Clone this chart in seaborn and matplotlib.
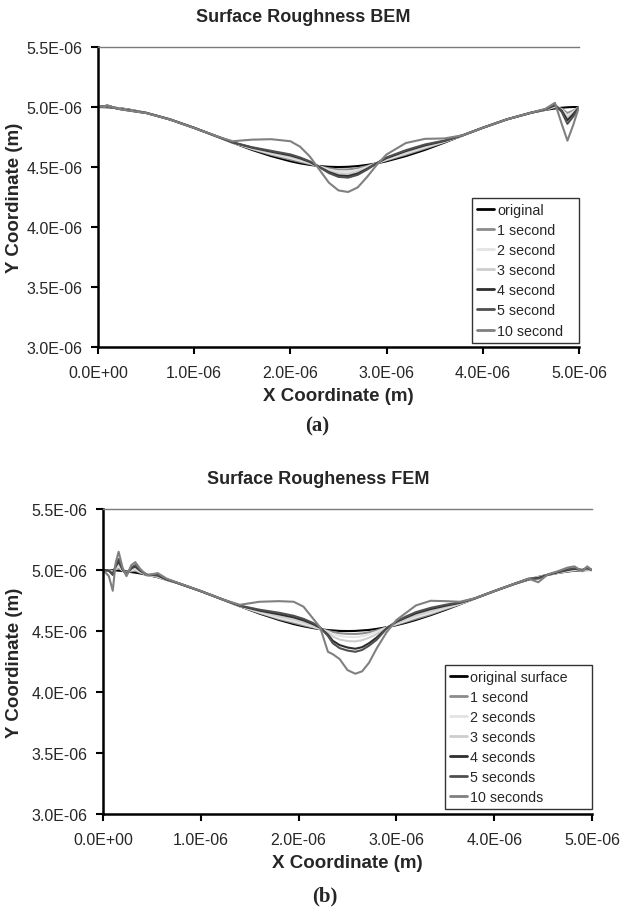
import numpy as np
import pandas as pd
import matplotlib
matplotlib.use("Agg")
import matplotlib.pyplot as plt
from matplotlib.ticker import FuncFormatter, MultipleLocator
import seaborn as sns

# ---- data (x and y in micrometres) ----
x_bem = [0.0, 0.1, 0.2, 0.3, 0.5, 0.75, 1.0, 1.25, 1.4, 1.6, 1.8, 2.0, 2.1, 2.2, 2.3, 2.4, 2.5,
         2.6, 2.7, 2.8, 2.9, 3.0, 3.2, 3.4, 3.6, 3.8, 4.0, 4.25, 4.5, 4.65, 4.75, 4.82, 4.88, 4.94, 5.0]

bem_original = [5.000, 4.998, 4.992, 4.982, 4.952, 4.897, 4.827, 4.750, 4.703, 4.643, 4.591, 4.548,
                4.531, 4.518, 4.508, 4.502, 4.500, 4.502, 4.508, 4.518, 4.531, 4.548, 4.591, 4.643,
                4.703, 4.766, 4.827, 4.897, 4.952, 4.976, 4.988, 4.994, 4.998, 5.000, 5.000]
bem_1s = [5.000, 5.006, 4.992, 4.980, 4.952, 4.897, 4.826, 4.750, 4.703, 4.649, 4.602, 4.562,
          4.543, 4.525, 4.506, 4.489, 4.480, 4.480, 4.490, 4.509, 4.532, 4.556, 4.603, 4.654,
          4.707, 4.766, 4.827, 4.897, 4.952, 4.977, 4.998, 4.985, 4.950, 4.970, 5.000]
bem_2s = [5.000, 5.008, 4.990, 4.978, 4.952, 4.896, 4.826, 4.751, 4.704, 4.653, 4.611, 4.574,
          4.553, 4.532, 4.504, 4.479, 4.463, 4.461, 4.475, 4.501, 4.532, 4.562, 4.613, 4.663,
          4.711, 4.767, 4.827, 4.897, 4.952, 4.978, 5.005, 4.980, 4.930, 4.960, 5.000]
bem_3s = [5.000, 5.010, 4.988, 4.976, 4.951, 4.896, 4.826, 4.751, 4.704, 4.657, 4.620, 4.585,
          4.563, 4.537, 4.503, 4.468, 4.447, 4.443, 4.461, 4.493, 4.532, 4.569, 4.623, 4.672,
          4.714, 4.767, 4.827, 4.897, 4.952, 4.979, 5.010, 4.975, 4.910, 4.950, 5.000]
bem_4s = [5.000, 5.011, 4.987, 4.975, 4.951, 4.896, 4.826, 4.751, 4.705, 4.662, 4.628, 4.597,
          4.573, 4.543, 4.501, 4.458, 4.430, 4.425, 4.446, 4.486, 4.533, 4.575, 4.633, 4.681,
          4.717, 4.767, 4.827, 4.897, 4.952, 4.980, 5.015, 4.970, 4.890, 4.940, 5.000]
bem_5s = [5.000, 5.012, 4.986, 4.974, 4.951, 4.896, 4.826, 4.751, 4.706, 4.665, 4.635, 4.605,
          4.580, 4.548, 4.500, 4.450, 4.418, 4.412, 4.435, 4.480, 4.533, 4.580, 4.640, 4.688,
          4.720, 4.767, 4.827, 4.897, 4.952, 4.980, 5.020, 4.960, 4.860, 4.920, 5.000]
bem_10s = [5.000, 5.012, 4.988, 4.972, 4.950, 4.895, 4.825, 4.752, 4.715, 4.728, 4.732, 4.715,
           4.670, 4.590, 4.480, 4.370, 4.305, 4.292, 4.330, 4.420, 4.520, 4.605, 4.700, 4.735,
           4.738, 4.766, 4.827, 4.897, 4.952, 4.985, 5.035, 4.860, 4.720, 4.850, 5.000]

x_fem = [0.0, 0.06, 0.1, 0.13, 0.16, 0.2, 0.24, 0.29, 0.33, 0.38, 0.45, 0.5, 0.56, 0.65, 0.75,
         1.0, 1.25, 1.4, 1.6, 1.8, 1.95, 2.05, 2.15, 2.22, 2.3, 2.35, 2.42, 2.5, 2.58, 2.65, 2.72,
         2.8, 2.9, 3.0, 3.1, 3.2, 3.35, 3.5, 3.65, 3.8, 4.0, 4.2, 4.35, 4.45, 4.55, 4.65, 4.75,
         4.82, 4.9, 4.95, 5.0]

fem_original = [5.000, 4.999, 4.998, 4.997, 4.995, 4.992, 4.989, 4.983, 4.979, 4.972, 4.961, 4.952,
                4.941, 4.921, 4.897, 4.827, 4.750, 4.703, 4.643, 4.591, 4.557, 4.539, 4.524, 4.515,
                4.508, 4.505, 4.501, 4.500, 4.501, 4.505, 4.509, 4.518, 4.531, 4.548, 4.568, 4.591,
                4.630, 4.673, 4.719, 4.766, 4.827, 4.884, 4.921, 4.943, 4.961, 4.976, 4.988, 4.994,
                4.998, 5.000, 5.000]
fem_1s = [5.000, 4.999, 4.990, 5.005, 5.015, 4.995, 4.982, 4.990, 4.995, 4.978, 4.960, 4.953,
          4.942, 4.919, 4.897, 4.827, 4.750, 4.703, 4.648, 4.598, 4.567, 4.547, 4.529, 4.516,
          4.502, 4.492, 4.482, 4.477, 4.476, 4.480, 4.490, 4.506, 4.530, 4.553, 4.576, 4.600,
          4.637, 4.679, 4.720, 4.766, 4.827, 4.884, 4.926, 4.943, 4.961, 4.977, 4.990, 4.996,
          4.998, 5.002, 5.000]
fem_2s = [5.000, 4.998, 4.985, 5.010, 5.030, 4.998, 4.975, 4.998, 5.005, 4.985, 4.960, 4.955,
          4.945, 4.920, 4.897, 4.827, 4.750, 4.704, 4.653, 4.606, 4.578, 4.557, 4.535, 4.518,
          4.495, 4.477, 4.460, 4.452, 4.450, 4.457, 4.472, 4.495, 4.528, 4.558, 4.585, 4.612,
          4.647, 4.687, 4.723, 4.767, 4.827, 4.885, 4.926, 4.940, 4.962, 4.978, 4.992, 5.000,
          4.999, 5.005, 5.000]
fem_3s = [5.000, 4.997, 4.975, 5.020, 5.050, 5.000, 4.970, 5.005, 5.020, 4.990, 4.960, 4.958,
          4.950, 4.920, 4.897, 4.827, 4.751, 4.705, 4.660, 4.620, 4.595, 4.572, 4.545, 4.522,
          4.485, 4.455, 4.430, 4.418, 4.415, 4.425, 4.445, 4.475, 4.525, 4.565, 4.598, 4.628,
          4.662, 4.697, 4.727, 4.767, 4.827, 4.885, 4.926, 4.938, 4.962, 4.980, 4.995, 5.005,
          5.000, 5.010, 5.000]
fem_4s = [5.000, 4.996, 4.965, 5.030, 5.070, 5.005, 4.965, 5.015, 5.030, 4.995, 4.960, 4.960,
          4.955, 4.922, 4.897, 4.827, 4.751, 4.707, 4.668, 4.637, 4.612, 4.588, 4.556, 4.527,
          4.470, 4.420, 4.385, 4.365, 4.355, 4.368, 4.400, 4.448, 4.522, 4.575, 4.612, 4.645,
          4.680, 4.707, 4.731, 4.767, 4.827, 4.885, 4.927, 4.935, 4.962, 4.982, 5.000, 5.010,
          5.000, 5.015, 5.000]
fem_5s = [5.000, 4.995, 4.960, 5.040, 5.090, 5.010, 4.960, 5.020, 5.040, 5.000, 4.960, 4.962,
          4.960, 4.925, 4.898, 4.827, 4.751, 4.708, 4.675, 4.650, 4.625, 4.600, 4.565, 4.530,
          4.460, 4.400, 4.360, 4.340, 4.330, 4.345, 4.380, 4.430, 4.520, 4.580, 4.620, 4.655,
          4.690, 4.715, 4.735, 4.767, 4.827, 4.885, 4.928, 4.930, 4.962, 4.985, 5.005, 5.015,
          5.000, 5.020, 5.000]
fem_10s = [5.000, 4.950, 4.830, 5.060, 5.150, 5.020, 4.950, 5.040, 5.065, 5.010, 4.955, 4.965,
           4.975, 4.930, 4.900, 4.828, 4.752, 4.715, 4.740, 4.745, 4.740, 4.700, 4.600, 4.530,
           4.330, 4.310, 4.270, 4.180, 4.150, 4.170, 4.240, 4.360, 4.490, 4.590, 4.650, 4.710,
           4.748, 4.745, 4.740, 4.768, 4.827, 4.886, 4.930, 4.900, 4.965, 4.990, 5.020, 5.030,
           4.990, 5.030, 5.000]

labels_bem = ["original", "1 second", "2 second", "3 second", "4 second", "5 second", "10 second"]
labels_fem = ["original surface", "1 second", "2 seconds", "3 seconds", "4 seconds",
              "5 seconds", "10 seconds"]
line_colors = ["#000000", "#8c8c8c", "#e4e4e4", "#cdcdcd", "#2e2e2e", "#4f4f4f", "#808080"]

sns.set_style("white")
plt.rcParams["font.family"] = ["Liberation Sans", "DejaVu Sans"]

fig = plt.figure(figsize=(6.26, 9.2), dpi=100)
ax_top = fig.add_axes([0.1565, 0.6217, 0.7684, 0.3261])
ax_bot = fig.add_axes([0.1645, 0.1141, 0.7812, 0.3315])


def sci(v, pos):
    return f"{v:.1E}"


def draw_panel(ax, x, series, labels, legend_left, ylabel_x):
    for ys, lab, col in zip(series, labels, line_colors):
        df = pd.DataFrame({"x": np.array(x) * 1e-6, "y": np.array(ys) * 1e-6})
        sns.lineplot(data=df, x="x", y="y", ax=ax, color=col, label=lab,
                     linewidth=1.5, sort=False, estimator=None)

    ax.set_xlim(0, 5e-6)
    ax.set_ylim(3.0e-6, 5.5e-6)
    ax.xaxis.set_major_locator(MultipleLocator(1e-6))
    ax.yaxis.set_major_locator(MultipleLocator(0.5e-6))
    ax.xaxis.set_major_formatter(FuncFormatter(sci))
    ax.yaxis.set_major_formatter(FuncFormatter(sci))
    ax.tick_params(axis="both", direction="out", length=5, width=1.5,
                   labelsize=11.5, color="black", bottom=True, left=True)
    ax.tick_params(axis="x", pad=8)
    ax.tick_params(axis="y", pad=6)

    for side in ["left", "bottom"]:
        ax.spines[side].set_color("black")
        ax.spines[side].set_linewidth(1.8)
    ax.spines["right"].set_visible(False)
    ax.spines["top"].set_color("#7a7a7a")
    ax.spines["top"].set_linewidth(1.0)

    ax.set_xlabel("X Coordinate (m)", fontsize=13.5, fontweight="bold", labelpad=5)
    ax.set_ylabel("Y Coordinate (m)", fontsize=13.5, fontweight="bold")
    ax.yaxis.set_label_coords(ylabel_x, 0.5)

    leg = ax.legend(loc="lower left", bbox_to_anchor=(legend_left, 0.015, 1 - legend_left, 0.5),
                    mode="expand", fontsize=10.3, frameon=True, fancybox=False,
                    borderaxespad=0, handlelength=1.15, handletextpad=0.25,
                    labelspacing=0.43, borderpad=0.35)
    leg.get_frame().set_edgecolor("black")
    leg.get_frame().set_linewidth(1.0)
    for h in leg.get_lines():
        h.set_linewidth(2.0)


draw_panel(ax_top, x_bem,
           [bem_original, bem_1s, bem_2s, bem_3s, bem_4s, bem_5s, bem_10s],
           labels_bem, 0.778, -0.156)
draw_panel(ax_bot, x_fem,
           [fem_original, fem_1s, fem_2s, fem_3s, fem_4s, fem_5s, fem_10s],
           labels_fem, 0.70, -0.164)

fig.text(303 / 626, 1 - 18 / 920, "Surface Roughness BEM", ha="center", va="center",
         fontsize=13, fontweight="bold")
fig.text(318 / 626, 1 - 479 / 920, "Surface Rougheness FEM", ha="center", va="center",
         fontsize=13, fontweight="bold")
fig.text(317 / 626, 1 - 426 / 920, "(a)", ha="center", va="center", fontsize=15,
         fontweight="bold", family=["Liberation Serif", "DejaVu Serif"])
fig.text(325 / 626, 1 - 896 / 920, "(b)", ha="center", va="center", fontsize=15,
         fontweight="bold", family=["Liberation Serif", "DejaVu Serif"])

fig.savefig("out.png", dpi=100)
